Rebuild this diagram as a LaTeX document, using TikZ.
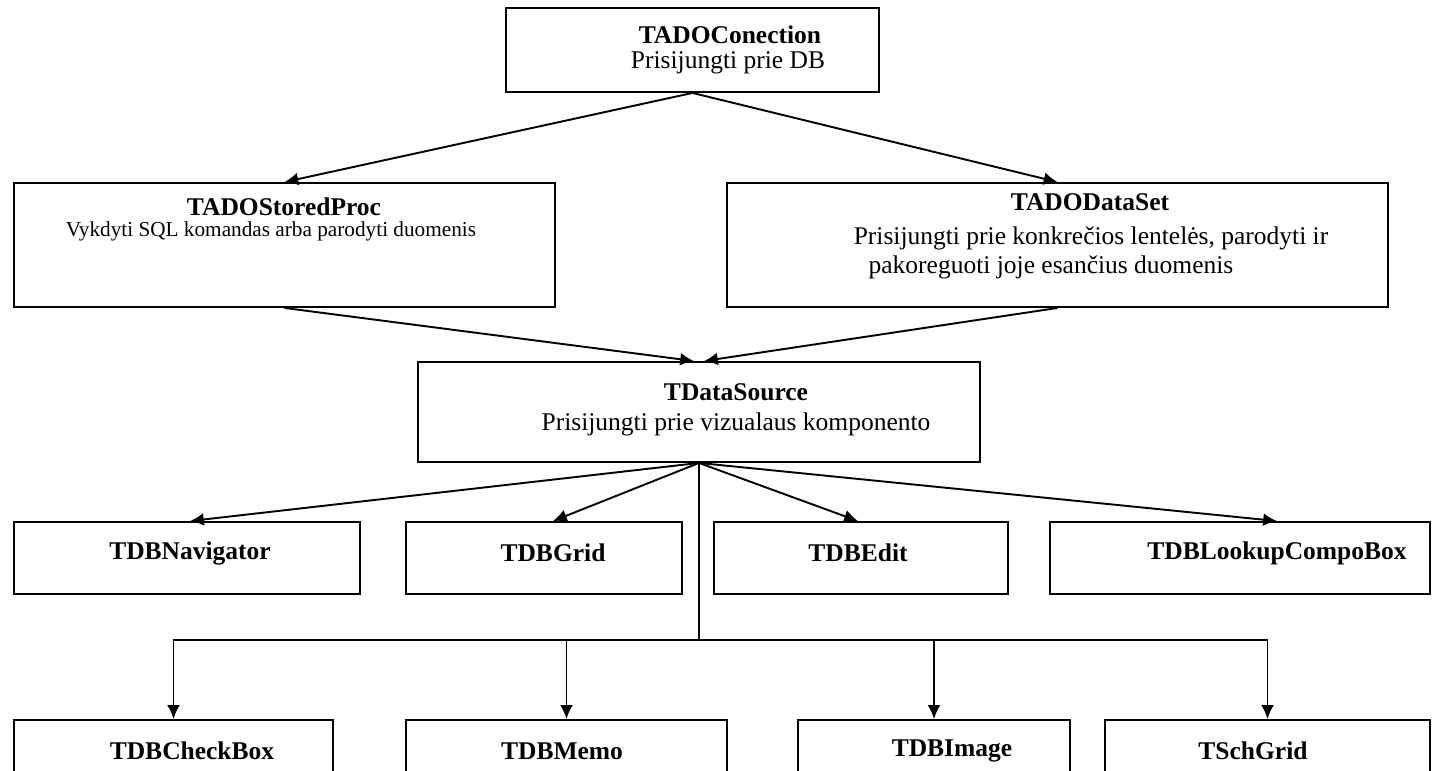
\documentclass[tikz,border=0pt]{standalone}
\usepackage{fontspec}
\setmainfont{Liberation Serif}
\usetikzlibrary{arrows.meta,calc}

\def\pxu{0.4706pt}
\tikzset{
  box/.style 2 args={draw,line width=0.9pt,inner sep=0pt,
    minimum width=#1*\pxu,minimum height=#2*\pxu},
  ttl/.style={font=\fontsize{12}{14}\selectfont\bfseries,inner sep=0pt},
  txt/.style={font=\fontsize{12}{14}\selectfont,inner sep=0pt},
  sml/.style={font=\fontsize{10}{12}\selectfont,inner sep=0pt},
}

\begin{document}
\begin{tikzpicture}[>={Latex[length=6.5pt,width=6pt]},x=\pxu,y=-\pxu,line width=0.9pt]
  \useasboundingbox (0,0) rectangle (1432,771);
  \clip (0,0) rectangle (1432,771);
  % upper part
  \node[box={373}{84}] (conn) at (692.5,50) {};
  \node[ttl] (connt) at (730,35) {TADOConection};
  \node[txt] (conns) at (728,63) {Prisijungti prie DB};
  \node[box={541}{124}] (proc) at (284.5,245) {};
  \node[ttl] (proct) at (284,207) {TADOStoredProc};
  \node[sml] (procs) at (271,231) {Vykdyti SQL komandas arba parodyti duomenis};
  \node[box={661}{124}] (dset) at (1057.5,245) {};
  \node[ttl] (dsett) at (1090,202) {TADODataSet};
  \node[txt] (dsets) at (1091,238) {Prisijungti prie konkrečios lentelės, parodyti ir};
  \node[txt] (dsetu) at (1051,267) {pakoreguoti joje esančius duomenis};
  \node[box={562}{100}] (dsrc) at (699,412) {};
  \node[ttl] (dsrct) at (736,392) {TDataSource};
  \node[txt] (dsrcs) at (736,424) {Prisijungti prie vizualaus komponento};
  % first row
  \node[box={346}{72}] (nav) at (187,558) {};
  \node[ttl] (navt) at (190,553) {TDBNavigator};
  \node[box={276}{72}] (grid) at (544,558) {};
  \node[ttl] (gridt) at (553,553) {TDBGrid};
  \node[box={294}{72}] (edit) at (861,558) {};
  \node[ttl] (editt) at (858,553) {TDBEdit};
  \node[box={380}{72}] (lookup) at (1240,558) {};
  \node[ttl] (lookt) at (1277,553) {TDBLookupCompoBox};
  % second row
  \node[box={319}{80}] (check) at (173.5,760) {};
  \node[ttl] (checkt) at (192,751) {TDBCheckBox};
  \node[box={321}{80}] (memo) at (566.5,760) {};
  \node[ttl] (memot) at (562,751) {TDBMemo};
  \node[box={272}{80}] (image) at (934,760) {};
  \node[ttl] (imaget) at (952,751) {TDBImage};
  \node[box={325}{80}] (schgrid) at (1267.5,760) {};
  \node[ttl] (schgridt) at (1253,751) {TSchGrid};
  % connectors
  \draw[->] (conn.south) -- (proc.north);
  \draw[->] (conn.south) -- (dset.north);
  \draw[->] (proc.south) -- ($(dsrc.north)+(-5,0)$);
  \draw[->] (dset.south) -- ($(dsrc.north)+(5,0)$);
  \foreach \t/\b in {navt/nav,gridt/grid,editt/edit,lookt/lookup}
    \draw[->] (dsrc.south) -- (\t |- \b.north);
  \coordinate (hub) at (dsrc.south |- 0,640);
  \draw (dsrc.south) -- (hub);
  \foreach \b in {check,memo,image,schgrid}
    \draw[->] (hub) -| (\b.north);
\end{tikzpicture}
\end{document}
